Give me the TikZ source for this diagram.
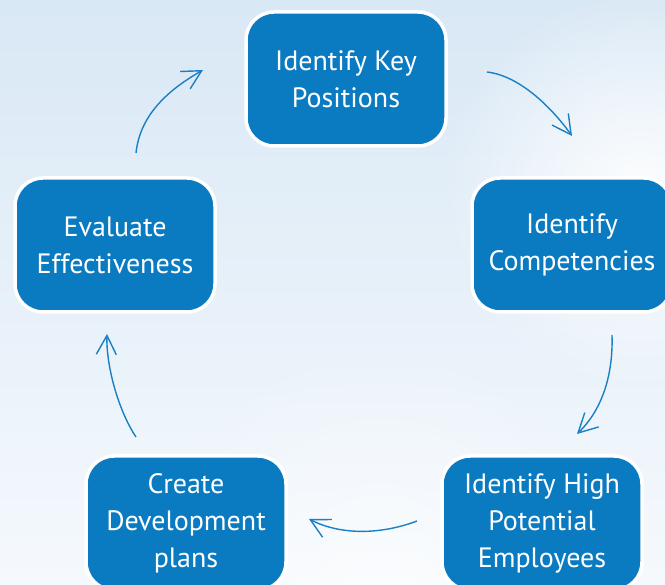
\documentclass[tikz,border=0pt]{standalone}
\usepackage{fontspec}
\setmainfont{PT Sans}
\usetikzlibrary{arrows.meta,fadings}
\definecolor{boxblue}{HTML}{0A7BC1}
\definecolor{arrowblue}{HTML}{1A80C6}
\definecolor{bgtop}{HTML}{D9E8F5}
\definecolor{bgbot}{HTML}{F5F9FD}
\tikzfading[name=glow, inner color=transparent!0, outer color=transparent!100]
\tikzset{
  stagebox/.style={draw=white, line width=3.5pt, fill=boxblue, rounded corners=28pt,
    minimum width=200pt, minimum height=134pt, text=white, align=center,
    font=\fontsize{28}{37}\selectfont, inner sep=0pt},
  cyclearrow/.style={draw=arrowblue, line width=1.4pt,
    -{Straight Barb[length=19pt,width=20pt,line width=1.4pt]}}
}
\begin{document}
\begin{tikzpicture}[x=1pt,y=-1pt]
\useasboundingbox (0,0) rectangle (665,585);
\clip (0,0) rectangle (665,585);
\shade[top color=bgtop, bottom color=bgbot] (0,0) rectangle (665,585);
\fill[white, path fading=glow, opacity=0.9] (640,190) circle (200);
\fill[white, path fading=glow, opacity=0.6] (380,600) circle (260);

\node[stagebox] (b1) at (346,79) {Identify Key\\Positions};
\node[stagebox] (b2) at (572,245) {Identify\\Competencies};
\node[stagebox] (b3) at (542,523) {Identify High\\Potential\\Employees};
\node[stagebox] (b4) at (186,523) {Create\\Development\\plans};
\node[stagebox] (b5) at (115,245) {Evaluate\\Effectiveness};

\coordinate (a1s) at (487,72);  \coordinate (a1e) at (572,136);
\coordinate (a2s) at (612,335); \coordinate (a2e) at (577,434);
\coordinate (a3s) at (417,521); \coordinate (a3e) at (309,519);
\coordinate (a4s) at (136,437); \coordinate (a4e) at (107,334);
\coordinate (a5s) at (136,153); \coordinate (a5e) at (203,70);

\draw[cyclearrow] (a1s) .. controls (522,76) and (555,112) .. (a1e);
\draw[cyclearrow] (a2s) .. controls (613,365) and (607,405) .. (a2e);
\draw[cyclearrow] (a3s) .. controls (380,535) and (340,535) .. (a3e);
\draw[cyclearrow] (a4s) .. controls (118,410) and (106,365) .. (a4e);
\draw[cyclearrow] (a5s) .. controls (140,115) and (168,90) .. (a5e);
\end{tikzpicture}
\end{document}
